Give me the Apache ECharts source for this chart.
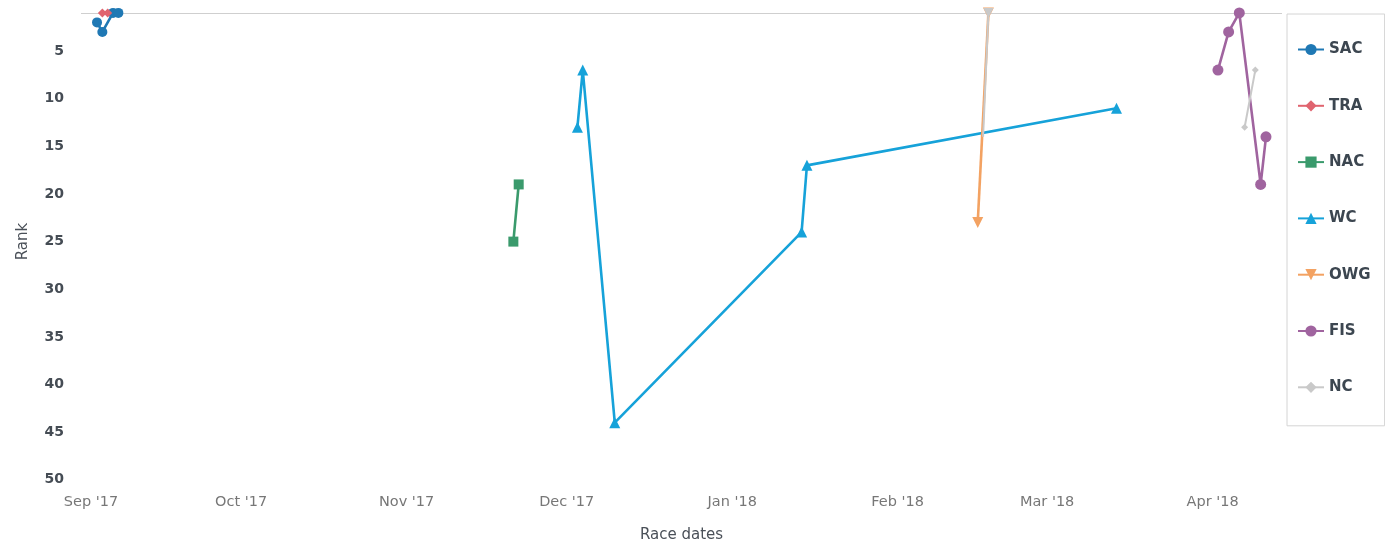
<!DOCTYPE html>
<html>
<head>
<meta charset="utf-8">
<script src="https://cdn.jsdelivr.net/npm/echarts@6/dist/echarts.min.js"></script>
<style>
  html, body { margin: 0; padding: 0; background: #fff; }
  #chart { width: 1385px; height: 551px; }
</style>
</head>
<body>
<div id="chart"></div>
<script>
// ---- data ----
const seriesNames = ['SAC', 'TRA', 'NAC', 'WC', 'OWG', 'FIS', 'NC'];
const monthNames = ['Jan', 'Feb', 'Mar', 'Apr', 'May', 'Jun', 'Jul', 'Aug', 'Sep', 'Oct', 'Nov', 'Dec'];
const rankTicks = [5, 10, 15, 20, 25, 30, 35, 40, 45, 50];

const sacDates = ['2017-09-04', '2017-09-05', '2017-09-07', '2017-09-08'];
const sacRanks = [2, 3, 1, 1];
const traDates = ['2017-09-05', '2017-09-06'];
const traRanks = [1, 1];
const nacDates = ['2017-11-21', '2017-11-22'];
const nacRanks = [25, 19];
const wcDates = ['2017-12-03', '2017-12-04', '2017-12-10', '2018-01-14', '2018-01-15', '2018-03-14'];
const wcRanks = [13, 7, 44, 24, 17, 11];
const owgDates = ['2018-02-16', '2018-02-18'];
const owgRanks = [23, 1];
const fisDates = ['2018-04-02', '2018-04-04', '2018-04-06', '2018-04-10', '2018-04-11'];
const fisRanks = [7, 3, 1, 19, 14];
const ncDates = ['2018-02-18', '2018-02-17', null, '2018-04-07', '2018-04-09'];
const ncRanks = [1, 14, null, 13, 7];

const axisStart = '2017-09-01';
const axisEnd = '2018-04-14';

// ---- styles ----
const colors = ['#1f78b4', '#e0646f', '#3a9a6c', '#16a2d9', '#f3a262', '#a0649f', '#c9c9c9'];
const symbols = ['circle', 'diamond', 'rect', 'triangle', 'triangle', 'circle', 'diamond'];
const rotations = [0, 0, 0, 0, 180, 0, 0];
const sizes = [10, 9, 10, 11, 11, 11, 7];

function pairs(dates, ranks) {
  return dates.map((d, i) => (d === null ? [null, null] : [d, ranks[i]]));
}
const allData = [
  pairs(sacDates, sacRanks),
  pairs(traDates, traRanks),
  pairs(nacDates, nacRanks),
  pairs(wcDates, wcRanks),
  pairs(owgDates, owgRanks),
  pairs(fisDates, fisRanks),
  pairs(ncDates, ncRanks)
];

const series = seriesNames.map((name, i) => {
  let data = allData[i].map(p => ({ value: p }));
  if (name === 'NC') {
    data[0].symbol = 'triangle';
    data[0].symbolRotate = 180;
    data[0].symbolSize = 10;
    data[1].symbol = 'none';
  }
  const s = {
    name: name,
    type: 'line',
    data: data,
    color: colors[i],
    symbol: symbols[i],
    symbolRotate: rotations[i],
    symbolSize: sizes[i],
    showAllSymbol: true,
    connectNulls: false,
    lineStyle: { width: name === 'NC' ? 2 : 2.6, color: colors[i] },
    itemStyle: { color: colors[i] },
    emphasis: { disabled: true },
    animation: false,
    z: 2 + i
  };
  if (i === 0) {
    s.markLine = {
      silent: true,
      symbol: ['none', 'none'],
      label: { show: false },
      lineStyle: { color: '#cfcfcf', type: 'solid', width: 1.2 },
      data: [{ yAxis: 1 }],
      animation: false,
      z: 1
    };
  }
  return s;
});

const chart = echarts.init(document.getElementById('chart'), null, { renderer: 'canvas' });
chart.setOption({
  animation: false,
  backgroundColor: '#ffffff',
  textStyle: { fontFamily: 'DejaVu Sans' },
  grid: { left: 81, right: 103, top: 3.35, bottom: 71.15, containLabel: false },
  legend: {
    orient: 'vertical',
    left: 1287,
    top: 14,
    padding: [28, 14, 31, 10],
    itemGap: 41.3,
    itemWidth: 26,
    itemHeight: 14,
    borderColor: '#d4d4d4',
    borderWidth: 1,
    textStyle: { fontFamily: 'DejaVu Sans', fontSize: 15, fontWeight: 'bold', color: '#3c4650' },
    data: seriesNames
  },
  xAxis: {
    type: 'time',
    min: axisStart,
    max: axisEnd,
    splitNumber: 8,
    minInterval: 28 * 86400000,
    maxInterval: 31 * 86400000,
    name: 'Race dates',
    nameLocation: 'middle',
    nameGap: 48,
    nameTextStyle: { fontFamily: 'DejaVu Sans', fontSize: 15, color: '#4a5058' },
    axisLine: { show: false },
    axisTick: { show: false },
    splitLine: { show: false },
    minorTick: { show: false },
    axisLabel: {
      margin: 15,
      fontSize: 14.5,
      color: '#777',
      fontFamily: 'DejaVu Sans',
      rich: { first: { fontSize: 14.5, color: '#777', fontFamily: 'DejaVu Sans', padding: [0, 0, 0, 20] } },
      formatter: function (v) {
        const d = new Date(v);
        if (d.getDate() !== 1) return '';
        const txt = monthNames[d.getMonth()] + " '" + String(d.getFullYear()).slice(2);
        if (d.getMonth() === 8 && d.getFullYear() === 2017) return '{first|' + txt + '}';
        return txt;
      }
    }
  },
  yAxis: {
    type: 'value',
    inverse: true,
    min: 0,
    max: 50,
    interval: 5,
    name: 'Rank',
    nameLocation: 'middle',
    nameGap: 50,
    nameTextStyle: { fontFamily: 'DejaVu Sans', fontSize: 15, color: '#4a5058' },
    axisLine: { show: false },
    axisTick: { show: false },
    splitLine: { show: false },
    axisLabel: {
      margin: 17,
      fontSize: 14,
      fontWeight: 'bold',
      color: '#454c54',
      fontFamily: 'DejaVu Sans',
      padding: [0, 0, 6, 0],
      formatter: function (v) { return rankTicks.indexOf(v) >= 0 ? String(v) : ''; }
    }
  },
  series: series
});
</script>
</body>
</html>
